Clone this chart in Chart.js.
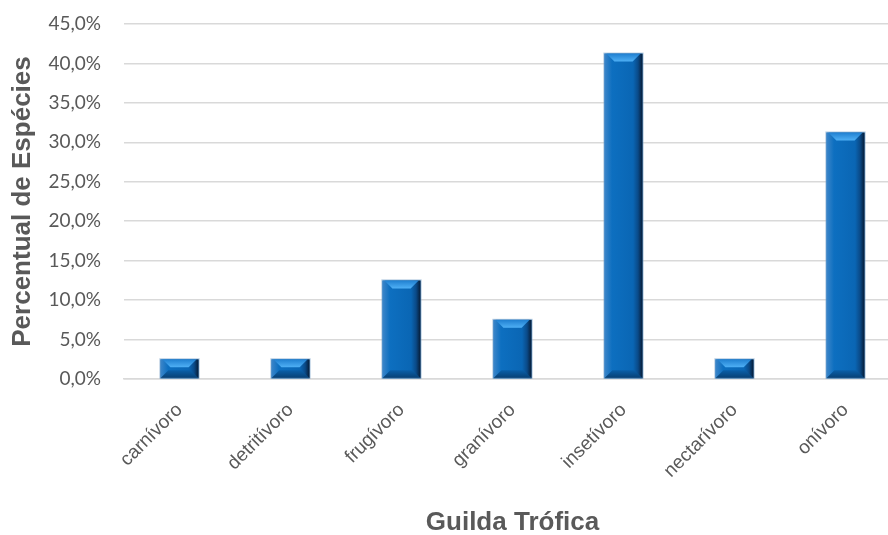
<!DOCTYPE html>
<html>
<head>
<meta charset="utf-8">
<script src="https://cdn.jsdelivr.net/npm/chart.js@4"></script>
<style>
  html, body { margin:0; padding:0; background:#fff; overflow:hidden; }
  #wrap { position:relative; width:912px; height:535px; }
</style>
</head>
<body>
<div id="wrap"><canvas id="guildChart"></canvas></div>
<script>
const guilds   = ['carnívoro','detritívoro','frugívoro','granívoro','insetívoro','nectarívoro','onívoro'];
const percents = [2.5, 2.5, 12.5, 7.5, 41.25, 2.5, 31.25];
const yTicks   = [0, 5, 10, 15, 20, 25, 30, 35, 40, 45];

const txt  = '#595959';
const grid = '#d9d9d9';

// bevelled face on top of each bar, drawn from the bar element geometry
const bevelBars = {
  id: 'bevelBars',
  afterDatasetsDraw(chart) {
    const ctx = chart.ctx;
    chart.getDatasetMeta(0).data.forEach(bar => {
      const x0 = bar.x - bar.width / 2, x1 = bar.x + bar.width / 2;
      const top = bar.y, bot = bar.base;
      const d = Math.min(8, (bot - top) / 2);
      ctx.save();

      // side faces
      const g = ctx.createLinearGradient(x0, 0, x1, 0);
      g.addColorStop(0, '#3d86c9');
      g.addColorStop(0.2, '#0d6fc0');
      g.addColorStop(0.75, '#0a66b4');
      g.addColorStop(0.88, '#0a4a88');
      g.addColorStop(1, '#061a33');
      ctx.fillStyle = g;
      ctx.fillRect(x0, top, x1 - x0, bot - top);

      // top bevel
      const gt = ctx.createLinearGradient(0, top, 0, top + d);
      gt.addColorStop(0, '#1f7fd0');
      gt.addColorStop(1, '#4fb0f5');
      ctx.fillStyle = gt;
      ctx.beginPath();
      ctx.moveTo(x0 + 2, top);
      ctx.lineTo(x1 - 2, top);
      ctx.lineTo(x1 - d - 2, top + d);
      ctx.lineTo(x0 + d + 2, top + d);
      ctx.closePath();
      ctx.fill();

      // bottom bevel
      const gb = ctx.createLinearGradient(0, bot - d, 0, bot);
      gb.addColorStop(0, '#0a5fa8');
      gb.addColorStop(1, '#073f73');
      ctx.fillStyle = gb;
      ctx.beginPath();
      ctx.moveTo(x0 + d, bot - d);
      ctx.lineTo(x1 - d, bot - d);
      ctx.lineTo(x1, bot);
      ctx.lineTo(x0, bot);
      ctx.closePath();
      ctx.fill();

      // soft edge
      ctx.strokeStyle = 'rgba(120,160,200,0.55)';
      ctx.lineWidth = 1;
      ctx.strokeRect(x0 - 0.5, top - 0.5, x1 - x0 + 1, bot - top + 0.5);
      ctx.restore();
    });
  }
};

new Chart(document.getElementById('guildChart'), {
  type: 'bar',
  data: {
    labels: guilds,
    datasets: [{
      data: percents,
      backgroundColor: '#0b6cbd',
      borderWidth: 0,
      categoryPercentage: 1,
      barPercentage: 0.345,
    }]
  },
  plugins: [bevelBars],
  options: {
    responsive: true,
    maintainAspectRatio: false,
    animation: false,
    layout: { padding: { top: 24, left: 0, right: 11, bottom: 1 } },
    plugins: { legend: { display: false }, tooltip: { enabled: false } },
    scales: {
      x: {
        grid: { display: false, drawTicks: false },
        border: { color: grid, width: 1.5 },
        ticks: {
          color: txt, minRotation: 45, maxRotation: 45, padding: 20,
          font: { family: 'Liberation Sans', size: 19 }
        },
        title: {
          display: true, text: 'Guilda Trófica', color: txt,
          font: { family: 'Liberation Sans', size: 26, weight: 'bold' },
          padding: { top: 0, bottom: -4 }
        },
        afterFit: s => { s.height = 155; }
      },
      y: {
        min: 0, max: 45,
        afterBuildTicks: s => { s.ticks = yTicks.map(v => ({ value: v })); },
        grid: { color: grid, lineWidth: 1.5, drawTicks: false },
        border: { display: false },
        ticks: {
          color: txt, padding: 23,
          font: { family: 'Lato', size: 19 },
          callback: v => v.toFixed(1).replace('.', ',') + '%'
        },
        title: {
          display: true, text: 'Percentual de Espécies', color: txt,
          font: { family: 'Liberation Sans', size: 26, weight: 'bold' },
          padding: { top: 7, bottom: 0 }
        },
        afterFit: s => { s.width = 124; s.paddingTop = 0; s.paddingBottom = 0; }
      }
    }
  }
});
</script>
</body>
</html>
